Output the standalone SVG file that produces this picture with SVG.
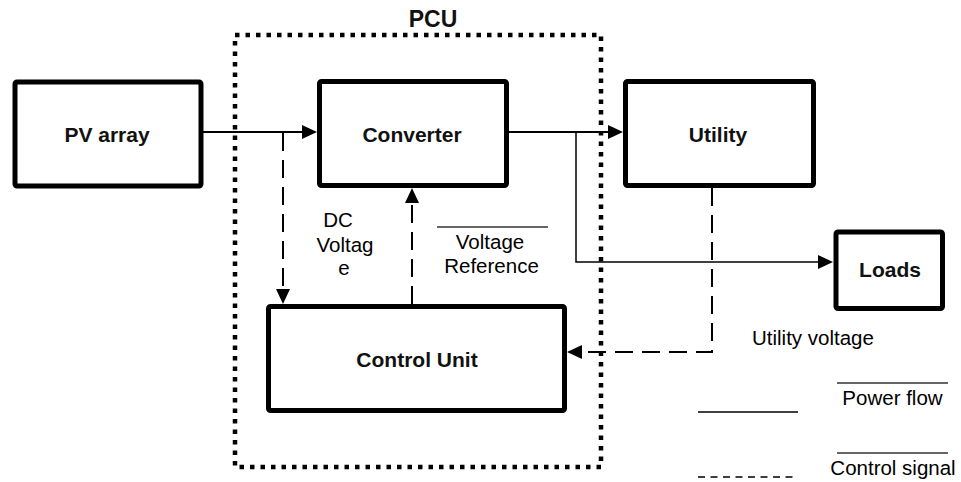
<svg xmlns="http://www.w3.org/2000/svg" width="961" height="482" viewBox="0 0 961 482">
<style>
.box{fill:#fff;stroke:#000;stroke-width:5}
.bt{font-family:"Liberation Sans",Arial,sans-serif;font-weight:bold;font-size:21px;fill:#111;text-anchor:middle}
.t{font-family:"Liberation Sans",Arial,sans-serif;font-size:20.5px;fill:#000}
.m{text-anchor:middle}
.pw{fill:none;stroke:#000;stroke-width:2}
.pw2{fill:none;stroke:#000;stroke-width:1.5}
.cs{fill:none;stroke:#000;stroke-width:2;stroke-dasharray:18 9}
.thin{stroke:#333;stroke-width:1.5}
</style>
<defs>
<marker id="ah" viewBox="0 0 15 14" refX="5" refY="7" markerWidth="15" markerHeight="14" markerUnits="userSpaceOnUse" orient="auto">
<path d="M0,0 L15,7 L0,14 Z" fill="#000"/>
</marker>
</defs>
<rect width="961" height="482" fill="#fff"/>
<g id="pcu">
<rect x="235" y="35" width="366" height="432" fill="none" stroke="#000" stroke-width="4.5" stroke-dasharray="4.5 6"/>
<text class="bt" x="433" y="27" style="font-size:23px">PCU</text>
</g>
<g id="pv">
<rect class="box" x="15" y="82" width="186" height="104" rx="2"/>
<text class="bt" x="107" y="142">PV array</text>
</g>
<g id="converter">
<rect class="box" x="319.5" y="81.5" width="187" height="104" rx="2"/>
<text class="bt" x="412" y="142">Converter</text>
</g>
<g id="utility">
<rect class="box" x="625.5" y="81.5" width="188" height="104" rx="2"/>
<text class="bt" x="718" y="142">Utility</text>
</g>
<g id="loads">
<rect class="box" x="836" y="232" width="106.5" height="76.5" rx="2"/>
<text class="bt" x="890" y="277">Loads</text>
</g>
<g id="control">
<rect class="box" x="268.5" y="306.5" width="296" height="104" rx="2"/>
<text class="bt" x="417" y="367">Control Unit</text>
</g>
<g id="connectors">
<path class="pw" d="M203,132 H307" marker-end="url(#ah)"/>
<path class="pw" d="M509,132 H613" marker-end="url(#ah)"/>
<path class="pw2" d="M576,132 V262 H823" marker-end="url(#ah)"/>
<path class="cs" d="M283,133 V294" marker-end="url(#ah)"/>
<path class="cs" d="M412,304 V198" marker-end="url(#ah)"/>
<path class="cs" d="M712,188 V352 H577" marker-end="url(#ah)"/>
</g>
<g id="labels">
<text class="t m" x="338" y="227">DC</text>
<text class="t m" x="345" y="252">Voltag</text>
<text class="t m" x="344" y="275">e</text>
<line class="thin" x1="437" y1="227" x2="548" y2="227"/>
<text class="t m" x="490" y="249">Voltage</text>
<text class="t m" x="491.5" y="273">Reference</text>
<text class="t" x="752" y="345">Utility voltage</text>
</g>
<g id="legend">
<line x1="698" y1="412" x2="798" y2="412" stroke="#000" stroke-width="1.5"/>
<line class="thin" x1="837" y1="383" x2="948" y2="383"/>
<text class="t m" x="892.5" y="405">Power flow</text>
<line x1="698" y1="477" x2="798" y2="477" stroke="#000" stroke-width="1.5" stroke-dasharray="7 5.5"/>
<line class="thin" x1="837" y1="453" x2="948" y2="453"/>
<text class="t m" x="893" y="475">Control signal</text>
</g>
</svg>
